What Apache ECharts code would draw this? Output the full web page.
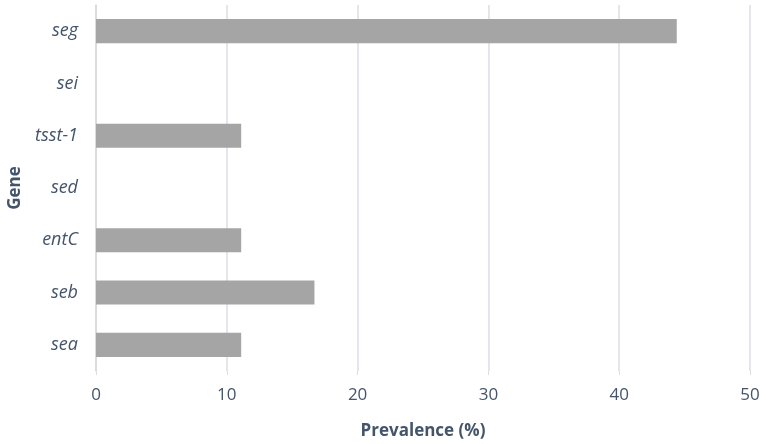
<!DOCTYPE html>
<html><head><meta charset="utf-8">
<script src="https://cdn.jsdelivr.net/npm/echarts@6/dist/echarts.min.js"></script>
<style>html,body{margin:0;padding:0;background:#fff}#c{width:765px;height:444px}</style>
</head><body><div id="c"></div>
<script>
var categories = ['sea', 'seb', 'entC', 'sed', 'tsst-1', 'sei', 'seg'];
var prevalence = [11.1, 16.7, 11.1, 0, 11.1, 0, 44.4];
var xTicks = [0, 10, 20, 30, 40, 50];

var chart = echarts.init(document.getElementById('c'));
var txt = '#44546a';
chart.setOption({
  animation: false,
  grid: { left: 96, right: 15, top: 5, bottom: 73, containLabel: false, outerBoundsMode: 'none' },
  xAxis: {
    type: 'value', min: xTicks[0], max: xTicks[xTicks.length - 1], interval: 10,
    name: 'Prevalence (%)', nameLocation: 'middle', nameGap: 52,
    nameTextStyle: { fontFamily: 'Open Sans', fontSize: 17, fontWeight: 'bold', color: txt },
    axisLine: { show: false },
    axisTick: { show: true, length: 4, lineStyle: { color: '#dcdce4' } },
    axisLabel: { fontFamily: 'Open Sans', fontSize: 17, color: txt, margin: 16 },
    splitLine: { show: true, lineStyle: { color: '#dcdce4', width: 1.5 } }
  },
  yAxis: {
    type: 'category', data: categories,
    name: 'Gene', nameLocation: 'middle', nameGap: 72, nameRotate: 90,
    nameTextStyle: { fontFamily: 'Open Sans', fontSize: 17, fontWeight: 'bold', color: txt },
    axisLine: { show: true, lineStyle: { color: '#d9d9d9', width: 1.5 } },
    axisTick: { show: false },
    axisLabel: { fontFamily: 'Open Sans', fontSize: 18, fontStyle: 'italic', color: txt, margin: 18 }
  },
  series: [{
    type: 'bar', data: prevalence, barWidth: '46%',
    itemStyle: { color: '#a5a5a5' }
  }]
});
</script></body></html>
